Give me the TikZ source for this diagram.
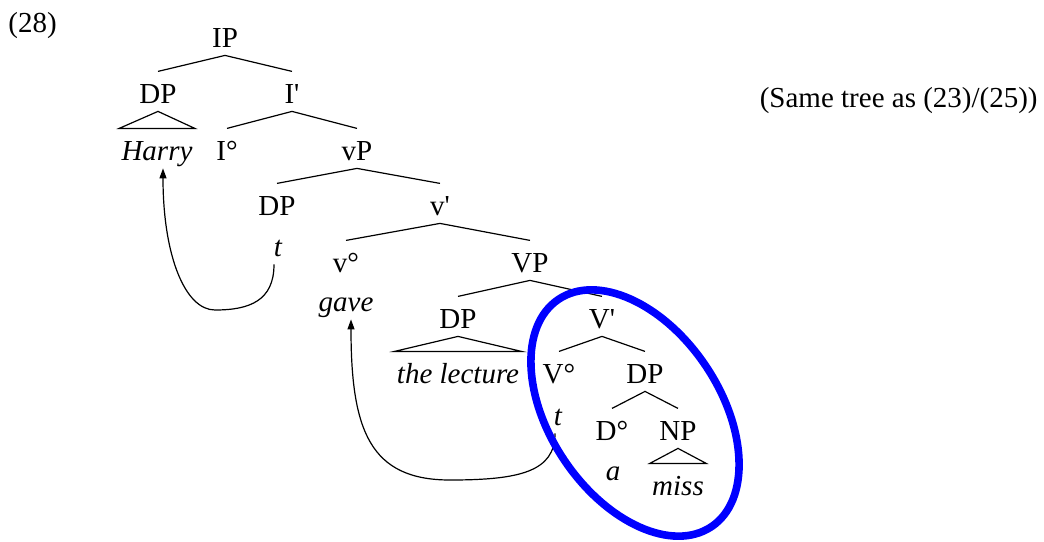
\documentclass[tikz,border=0pt]{standalone}
\usepackage{fontspec}
\setmainfont{LiberationSerif-Regular.ttf}[ItalicFont=LiberationSerif-Italic.ttf,BoldFont=LiberationSerif-Bold.ttf]
\usetikzlibrary{arrows.meta}
\begin{document}
\begin{tikzpicture}[x=0.5pt,y=-0.5pt,
  font=\fontsize{14.5pt}{17pt}\selectfont,
  lab/.style={inner xsep=1pt, inner ysep=4pt, text height=11.6pt, text depth=0pt, anchor=base},
  leaf/.style={lab, font=\fontsize{14.5pt}{17pt}\selectfont\itshape},
  br/.style={line width=0.6pt},
  arr/.style={line width=0.6pt, -{Triangle[length=5pt,width=3.5pt]}},
  ell/.style={draw=blue, line width=3.8pt}]
\useasboundingbox (0,0) rectangle (1044,541);
% labels
\node[anchor=base west, inner sep=0pt] (num) at (8,32) {(28)};
\node[anchor=base east, inner sep=0pt] (note) at (1038,107) {(Same tree as (23)/(25))};
\node[lab] (IP) at (225,47) {IP};
\node[lab] (DPa) at (158,103) {DP};
\node[lab] (Ib) at (292,103) {I\textquotesingle};
\node[leaf] (Harry) at (157,160) {Harry};
\node[lab] (I0) at (227,160) {I°};
\node[lab] (vP) at (357,160) {vP};
\node[lab] (DPb) at (277,215) {DP};
\node[lab] (vb) at (440,215) {v\textquotesingle};
\node[leaf] (t1) at (278,256) {t};
\node[lab] (v0) at (346,272) {v°};
\node[lab] (VP) at (530,272) {VP};
\node[leaf] (gave) at (346,311) {gave};
\node[lab] (DPc) at (458,328) {DP};
\node[lab] (Vb) at (602,328) {V\textquotesingle};
\node[leaf] (lect) at (458,383) {the lecture};
\node[lab] (V0) at (559,383) {V°};
\node[lab] (DPd) at (645,383) {DP};
\node[leaf] (t2) at (558,425) {t};
\node[lab] (D0) at (612,440) {D°};
\node[lab] (NP) at (678,440) {NP};
\node[leaf] (a) at (613,480) {a};
\node[leaf] (miss) at (678,495) {miss};
% branches
\draw[br] (DPa.north) -- (IP.south) -- (Ib.north);
\draw[br] (Harry.north west) -- (DPa.south) -- (Harry.north east) -- cycle;
\draw[br] (I0.north) -- (Ib.south) -- (vP.north);
\draw[br] (DPb.north) -- (vP.south) -- (vb.north);
\draw[br] (v0.north) -- (vb.south) -- (VP.north);
\draw[br] (DPc.north) -- (VP.south) -- (Vb.north);
\draw[br] (lect.north west) -- (DPc.south) -- (lect.north east) -- cycle;
\draw[br] (V0.north) -- (Vb.south) -- (DPd.north);
\draw[br] (D0.north) -- (DPd.south) -- (NP.north);
\draw[br] (miss.north west) -- (NP.south) -- (miss.north east) -- cycle;
% movement arrows
\coordinate (b1) at (215,310);
\coordinate (b2) at (450,480);
\draw[arr] ([xshift=-2pt]t1.south) .. controls +(0,36) and +(35,0) .. (b1)
  .. controls +(-30,0) and +(0,87) .. ([xshift=3pt]Harry.south);
\draw[arr] ([xshift=-1.5pt]t2.south) .. controls +(0,38) and +(70,0) .. (b2)
  .. controls +(-80,0) and +(0,111) .. ([xshift=2.5pt]gave.south);
% ellipse
\coordinate (ec) at (635,413);
\draw[ell, rotate around={-56:(ec)}] (ec) ellipse [x radius=137, y radius=85];
\end{tikzpicture}
\end{document}
